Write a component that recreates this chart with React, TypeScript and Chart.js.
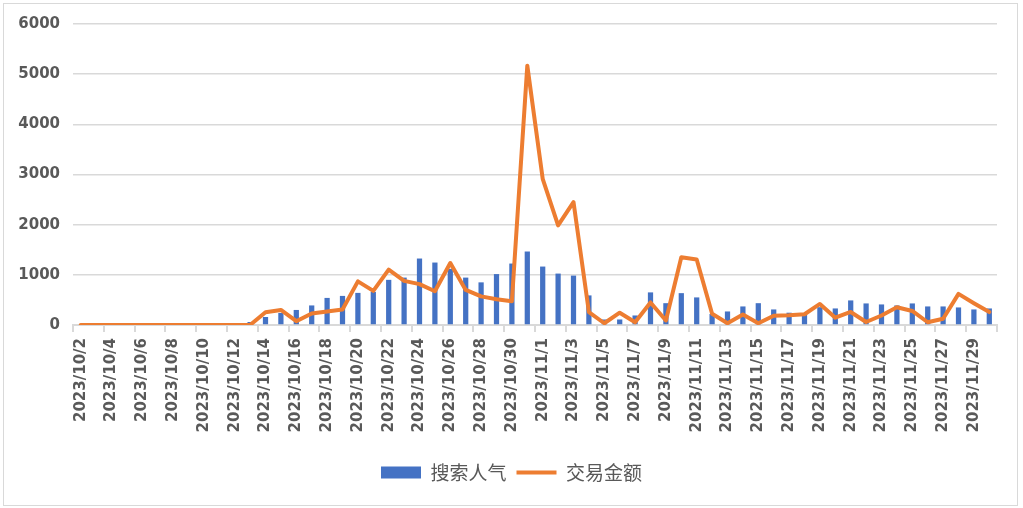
import React, { useEffect, useRef } from 'react';
import { Chart, registerables } from 'chart.js';

Chart.register(...registerables);

const categories = [
  '2023/10/2', '2023/10/3', '2023/10/4', '2023/10/5', '2023/10/6', '2023/10/7', '2023/10/8', '2023/10/9',
  '2023/10/10', '2023/10/11', '2023/10/12', '2023/10/13', '2023/10/14', '2023/10/15', '2023/10/16', '2023/10/17',
  '2023/10/18', '2023/10/19', '2023/10/20', '2023/10/21', '2023/10/22', '2023/10/23', '2023/10/24', '2023/10/25',
  '2023/10/26', '2023/10/27', '2023/10/28', '2023/10/29', '2023/10/30', '2023/10/31',
  '2023/11/1', '2023/11/2', '2023/11/3', '2023/11/4', '2023/11/5', '2023/11/6', '2023/11/7', '2023/11/8',
  '2023/11/9', '2023/11/10', '2023/11/11', '2023/11/12', '2023/11/13', '2023/11/14', '2023/11/15', '2023/11/16',
  '2023/11/17', '2023/11/18', '2023/11/19', '2023/11/20', '2023/11/21', '2023/11/22', '2023/11/23', '2023/11/24',
  '2023/11/25', '2023/11/26', '2023/11/27', '2023/11/28', '2023/11/29', '2023/11/30',
];

const searchPopularity = [
  0, 0, 0, 0, 0, 0, 0, 0, 0, 0,
  0, 60, 160, 240, 300, 390, 540, 580, 640, 660,
  900, 945, 1325, 1245, 1120, 945, 850, 1015, 1225, 1465,
  1165, 1025, 985, 590, 110, 110, 190, 650, 435, 635,
  550, 220, 270, 370, 435, 310, 245, 235, 355, 330,
  490, 430, 410, 390, 430, 370, 370, 350, 310, 330,
];

const tradeAmount = [
  0, 0, 0, 0, 0, 0, 0, 0, 0, 0,
  0, 0, 255, 300, 75, 230, 270, 310, 870, 680,
  1105, 880, 815, 672, 1235, 700, 570, 515, 475, 5170,
  2915, 1985, 2450, 258, 35, 245, 55, 450, 90, 1350,
  1305, 225, 35, 210, 35, 185, 195, 215, 420, 145,
  260, 60, 190, 355, 280, 55, 125, 620, 435, 258,
];

const yTicks = [0, 1000, 2000, 3000, 4000, 5000, 6000];

const seriesNames = ['搜索人气', '交易金额'];

export default function App() {
  const canvasRef = useRef<HTMLCanvasElement | null>(null);

  useEffect(() => {
    const canvas = canvasRef.current;
    if (!canvas) return;
    const axisFont = { family: '"DejaVu Sans", "Noto Sans CJK SC", sans-serif', size: 15, weight: 'bold' as const };
    const chart = new Chart(canvas, {
      type: 'bar',
      data: {
        labels: categories,
        datasets: [
          {
            type: 'bar',
            label: seriesNames[0],
            data: searchPopularity,
            backgroundColor: '#4472C4',
            borderWidth: 0,
            barPercentage: 0.34,
            categoryPercentage: 1,
            order: 1,
            yAxisID: 'y',
          },
          {
            type: 'line',
            label: seriesNames[1],
            data: tradeAmount,
            borderColor: '#ED7D31',
            backgroundColor: '#ED7D31',
            borderWidth: 4,
            pointRadius: 0,
            pointHoverRadius: 0,
            tension: 0,
            borderJoinStyle: 'round',
            borderCapStyle: 'round',
            order: 0,
            yAxisID: 'y',
          },
        ] as any,
      },
      options: {
        responsive: true,
        maintainAspectRatio: false,
        animation: false,
        layout: { padding: { left: 0, right: 0, top: 24, bottom: 16 } },
        plugins: {
          tooltip: { enabled: false },
          legend: {
            position: 'bottom',
            labels: {
              usePointStyle: true,
              pointStyleWidth: 40,
              boxHeight: 12,
              padding: 10,
              color: '#595959',
              font: { family: '"Noto Sans CJK SC", sans-serif', size: 19 },
              sort: (a: any, b: any) => a.datasetIndex - b.datasetIndex,
              generateLabels: (chart: any) => {
                const items = Chart.defaults.plugins.legend.labels.generateLabels(chart);
                return items.map((it: any) => ({
                  ...it,
                  pointStyle: it.datasetIndex === 0 ? 'rect' : 'line',
                  lineWidth: it.datasetIndex === 0 ? 0 : 4,
                  strokeStyle: it.datasetIndex === 0 ? '#4472C4' : '#ED7D31',
                  fillStyle: it.datasetIndex === 0 ? '#4472C4' : '#ED7D31',
                }));
              },
            },
          },
        },
        scales: {
          x: {
            offset: true,
            grid: {
              offset: true,
              drawOnChartArea: false,
              drawTicks: true,
              tickLength: 7,
              lineWidth: 2,
              color: (ctx: any) =>
                ctx.index === undefined || ctx.index % 2 === 0 ? '#d9d9d9' : 'rgba(0,0,0,0)',
            },
            border: { display: true, color: '#d9d9d9', width: 2 },
            ticks: {
              autoSkip: false,
              maxRotation: 90,
              minRotation: 90,
              padding: 6,
              color: '#595959',
              font: axisFont,
              callback: (_v: any, index: number) => (index % 2 === 0 ? categories[index] : ''),
            },
            afterFit: (scale: any) => {
              scale.height = 128;
            },
          },
          y: {
            position: 'left',
            min: yTicks[0],
            max: yTicks[yTicks.length - 1],
            afterBuildTicks: (scale: any) => {
              scale.ticks = yTicks.map((v) => ({ value: v }));
            },
            grid: { color: '#d9d9d9', lineWidth: 1.5, drawTicks: false },
            border: { display: false },
            ticks: {
              padding: 13,
              color: '#595959',
              font: axisFont,
              callback: (v: any) => String(v),
            },
            afterFit: (scale: any) => {
              scale.width = 73;
            },
          },
          yRight: {
            position: 'right',
            display: true,
            min: 0,
            max: 1,
            grid: { display: false, drawTicks: false },
            border: { display: false },
            ticks: { display: false },
            afterFit: (scale: any) => {
              scale.width = 26;
            },
          },
        },
      } as any,
    });
    return () => chart.destroy();
  }, []);

  return (
    <div style={{ position: 'absolute', left: 0, top: 0, width: 1023, height: 508, background: '#fff' }}>
      <div
        style={{
          position: 'absolute',
          left: 3,
          top: 3,
          width: 1015,
          height: 503,
          border: '1px solid #d9d9d9',
          boxSizing: 'border-box',
          pointerEvents: 'none',
        }}
      />
      <canvas ref={canvasRef} style={{ position: 'absolute', left: 0, top: 0 }} />
    </div>
  );
}
